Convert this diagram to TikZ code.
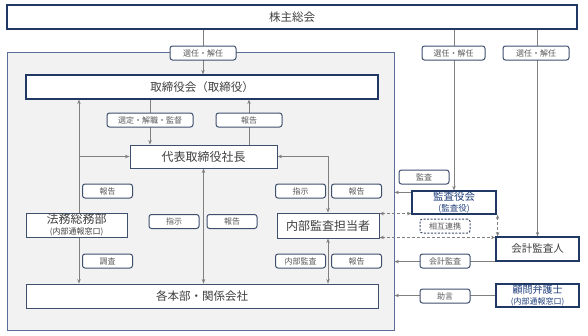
\documentclass[tikz,border=0pt]{standalone}
\usepackage{fontspec}
\setmainfont{Noto Sans CJK JP}
\usepackage{xcolor}
\usetikzlibrary{arrows.meta, backgrounds}

\definecolor{navy}{HTML}{1F3864}
\definecolor{navytext}{HTML}{203F7C}
\definecolor{slate}{HTML}{3F4F6E}
\definecolor{txtgrey}{HTML}{404040}
\definecolor{tagtext}{HTML}{595959}
\definecolor{linegrey}{HTML}{808080}
\definecolor{panel}{HTML}{F2F2F2}
\definecolor{panelline}{HTML}{5B6E99}

\begin{document}
\begin{tikzpicture}[
    x=1pt, y=-1pt,
    every node/.style={text=txtgrey, inner sep=0pt, align=center},
    navybox/.style={draw=navy, line width=1.2pt, fill=white},
    slatebox/.style={draw=slate, line width=0.9pt, fill=white},
    tag/.style={draw=slate, line width=1pt, fill=white, rounded corners=2.5pt, text=tagtext,
      minimum width=50pt, minimum height=14pt, font=\fontsize{8}{9}\selectfont},
    bigtext/.style={font=\fontsize{11.5}{13}\selectfont},
    conn/.style={draw=linegrey, line width=0.9pt},
    link/.style={conn, dash pattern=on 3pt off 2pt},
    >={Stealth[length=4.5pt, width=3.5pt]}
  ]

  \useasboundingbox (0,0) rectangle (588,335);

  % ── Company panel (grey) ────────────────────────────────────────────────
  \begin{pgfonlayer}{background}
    \node[draw=panelline, line width=0.9pt, fill=panel,
      minimum width=387pt, minimum height=278pt] (company) at (200.5,191) {};
  \end{pgfonlayer}

  % ── Boxes ───────────────────────────────────────────────────────────────
  \node[navybox, bigtext, minimum width=570pt, minimum height=24pt] (soukai) at (292,17) {株主総会};
  \node[navybox, bigtext, minimum width=352pt, minimum height=24pt] (board) at (202,87) {取締役会（取締役）};
  \node[slatebox, font=\fontsize{12}{13}\selectfont, minimum width=147pt, minimum height=23pt] (ceo) at (203.5,156.5) {代表取締役社長};
  \node[slatebox, minimum width=101pt, minimum height=24pt] (legal) at (76.5,225)
    {{\fontsize{12}{12}\selectfont 法務総務部}\\[-1pt]{\fontsize{8}{9}\selectfont (内部通報窓口)}};
  \node[slatebox, font=\fontsize{12}{13}\selectfont, minimum width=102pt, minimum height=25pt] (audit) at (328,225.5) {内部監査担当者};
  \node[slatebox, bigtext, minimum width=352pt, minimum height=24pt] (units) at (202,296) {各本部・関係会社};

  \node[navybox, text=navytext, minimum width=84pt, minimum height=23pt] (kansa) at (454,202.5)
    {{\fontsize{10.5}{11}\selectfont 監査役会}\\[-1pt]{\fontsize{8.5}{9}\selectfont (監査役)}};
  \node[navybox, font=\fontsize{10.5}{11}\selectfont, minimum width=83pt, minimum height=24pt] (cpa) at (537.5,249) {会計監査人};
  \node[navybox, text=navytext, minimum width=83pt, minimum height=23pt] (lawyer) at (537.5,295.5)
    {{\fontsize{10}{10}\selectfont 顧問弁護士}\\[-1pt]{\fontsize{8}{9}\selectfont (内部通報窓口)}};

  % ── Tags on the connectors ──────────────────────────────────────────────
  \node[tag, minimum width=66pt] (elect1) at (203,53) {選任・解任};
  \node[tag, minimum width=63pt] (elect2) at (453.5,53) {選任・解任};
  \node[tag, minimum width=66pt] (elect3) at (536,53) {選任・解任};
  \node[tag, minimum width=86pt] (oversee) at (150,120) {選定・解職・監督};
  \node[tag, minimum width=66pt] (rep1) at (249,120) {報告};
  \node[tag] (rep2) at (107.5,191) {報告};
  \node[tag] (instr1) at (174,221.5) {指示};
  \node[tag] (rep3) at (232,221.5) {報告};
  \node[tag] (instr2) at (300.5,191) {指示};
  \node[tag] (rep4) at (356.5,191) {報告};
  \node[tag] (inspect) at (424,177) {監査};
  \node[tag] (survey) at (107.5,261) {調査};
  \node[tag] (intaudit) at (300.5,261) {内部監査};
  \node[tag] (rep5) at (356.5,261) {報告};
  \node[tag, dash pattern=on 2pt off 1.5pt] (liaison) at (445,226) {相互連携};
  \node[tag] (acctaudit) at (445,261) {会計監査};
  \node[tag] (advice) at (445,296) {助言};

  % ── Connectors (under the boxes) ────────────────────────────────────────
  \begin{pgfonlayer}{background}
    \draw[conn, ->] (soukai.south -| elect1) -- (board.north -| elect1);
    \draw[conn, ->] (board.south -| oversee) -- (ceo.north -| oversee);
    \draw[conn, ->] (ceo.north -| rep1) -- (board.south -| rep1);

    % legal affairs reports up, and investigates down
    \draw[conn, ->] ([xshift=2.5pt]legal.north) -- ([xshift=2.5pt]legal.north |- board.south);
    \draw[conn, ->] ([xshift=2.5pt]legal.north |- ceo.west) -- (ceo.west);
    \draw[conn, ->] ([xshift=2.5pt]legal.south) -- ([xshift=2.5pt]legal.south |- units.north);

    \draw[conn, <->] (ceo.south) -- (ceo.south |- units.north);
    \draw[conn, <->] (ceo.east) -| (audit.north);
    \draw[conn, <->] (audit.south) -- (audit.south |- units.north);

    % outside the company
    \draw[conn, ->] (soukai.south -| kansa) -- (kansa.north);
    \draw[conn, ->] (soukai.south -| cpa) -- (cpa.north);
    \draw[conn, ->] ([yshift=-2pt]kansa.north west) -- ([yshift=-2pt]kansa.north west -| company.east);
    \draw[conn, ->] (cpa.south west) -- (cpa.south west -| company.east);
    \draw[conn, ->] (lawyer.west) -- (lawyer.west -| company.east);

    % three-way cooperation
    \draw[link, <->] ([yshift=-1pt]audit.north east) -- ([yshift=-1pt]audit.north east -| kansa.west);
    \draw[link, <->] ([yshift=1pt]audit.south east) -- ([yshift=1pt]audit.south east -| cpa.west);
    \draw[link, <->] ([xshift=1pt]kansa.south east) -- ([xshift=1pt]kansa.south east |- cpa.north);
  \end{pgfonlayer}

\end{tikzpicture}
\end{document}
